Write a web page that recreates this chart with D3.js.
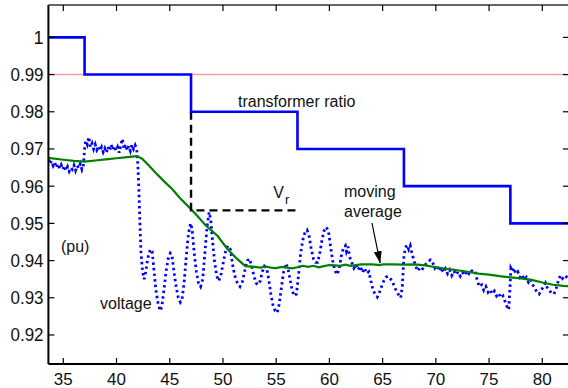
<!DOCTYPE html>
<html>
<head>
<meta charset="utf-8">
<script src="https://cdn.jsdelivr.net/npm/d3@7"></script>
<style>
  html, body { margin: 0; padding: 0; background: #fff; }
  svg { display: block; font-family: "Liberation Sans", Arial, Helvetica, sans-serif; }
</style>
</head>
<body>
<svg id="chart" width="568" height="388"></svg>
<script>
// Axis ticks
const xTicks = [35, 40, 45, 50, 55, 60, 65, 70, 75, 80];
const yTicks = [0.92, 0.93, 0.94, 0.95, 0.96, 0.97, 0.98, 0.99, 1];

// Transformer ratio: tap changes (time of change, new ratio)
const ratioTimes  = [33.6, 37, 47, 57, 67, 77];
const ratioValues = [1.00, 0.99, 0.98, 0.97, 0.96, 0.95];

// Reference level (pu)
const referenceLevel = 0.99;

// Vr marker: dashed corner from ratio step down to the voltage reference
const vrTimes = [47, 57];
const vrLevel = 0.9535;

// Measured voltage (time, pu)
const voltageTime = [
  33.6,33.75,33.9,34.05,34.2,34.35,34.5,34.65,34.8,34.95,35.1,35.25,35.4,35.55,35.7,35.85,36.0,36.15,36.3,36.45,36.6,36.75,36.9,
  37.0,37.1,37.25,37.4,37.55,37.7,37.85,38.0,38.15,38.3,38.45,38.6,38.75,38.9,39.05,39.2,39.35,39.5,39.65,39.8,39.95,40.1,40.25,40.4,40.55,40.7,40.85,41.0,41.15,41.3,41.45,41.6,41.75,41.9,
  42.0,42.1,42.2,42.3,42.45,42.6,42.75,42.9,43.05,43.2,43.35,43.5,43.7,43.9,44.1,44.25,44.45,44.65,44.85,45.05,45.2,45.4,45.6,45.8,46.0,46.15,46.35,46.55,46.75,46.95,47.1,47.3,47.5,47.7,47.9,48.1,48.3,48.5,48.7,48.85,
  49.0,49.2,49.4,49.6,49.8,50.0,50.2,50.45,50.7,50.9,51.1,51.35,51.6,51.85,52.1,52.3,52.5,52.7,52.9,53.1,53.3,53.5,53.7,53.9,54.1,54.3,54.5,54.7,54.9,55.1,55.3,55.5,55.7,55.9,56.1,56.3,56.5,56.7,56.9,
  57.1,57.3,57.5,57.7,57.9,58.1,58.3,58.5,58.7,58.9,59.1,59.3,59.5,59.7,59.9,60.1,60.3,60.5,60.7,60.9,61.1,61.3,61.5,61.6,61.75,61.9,62.1,62.3,62.5,62.7,62.9,63.1,63.3,63.5,63.7,63.9,
  64.1,64.3,64.5,64.7,64.9,65.1,65.3,65.5,65.7,65.9,66.1,66.3,66.5,66.7,66.85,67.0,67.15,67.3,67.45,67.6,67.75,67.9,68.1,68.3,68.5,68.7,68.9,69.1,69.3,69.5,69.7,69.9,
  70.1,70.3,70.5,70.7,70.9,71.1,71.3,71.5,71.7,71.9,72.1,72.3,72.5,72.7,72.9,73.1,73.3,73.5,73.7,73.9,74.1,74.3,74.5,74.7,74.9,75.1,75.3,75.5,75.7,75.9,76.1,76.3,76.5,76.7,76.85,76.95,
  77.05,77.2,77.35,77.5,77.7,77.9,78.1,78.3,78.5,78.7,78.9,79.1,79.3,79.5,79.7,79.9,80.1,80.3,80.5,80.7,80.9,81.1,81.3,81.5,81.7,81.9,82.1,82.3,82.45
];
const voltageValue = [
  .9672,.9660,.9668,.9655,.9663,.9650,.9660,.9648,.9657,.9645,.9655,.9642,.9652,.9640,.9650,.9645,.9656,.9642,.9655,.9648,.9660,.9645,.9658,
  .9700,.9722,.9712,.9732,.9705,.9715,.9700,.9712,.9698,.9708,.9695,.9705,.9692,.9702,.9690,.9706,.9695,.9712,.9698,.9708,.9695,.9705,.9690,.9710,.9727,.9700,.9712,.9696,.9708,.9695,.9712,.9700,.9710,.9698,
  .9660,.9590,.9500,.9420,.9370,.9350,.9370,.9400,.9420,.9430,.9425,.9380,.9320,.9285,.9265,.9275,.9320,.9370,.9405,.9420,.9415,.9370,.9330,.9300,.9288,.9295,.9340,.9410,.9470,.9500,.9485,.9420,.9370,.9340,.9330,.9350,.9420,.9490,.9530,.9510,
  .9460,.9400,.9360,.9345,.9360,.9390,.9420,.9440,.9430,.9390,.9360,.9340,.9330,.9345,.9380,.9400,.9405,.9385,.9360,.9340,.9335,.9345,.9370,.9385,.9380,.9350,.9310,.9280,.9265,.9260,.9285,.9330,.9370,.9392,.9380,.9350,.9320,.9305,.9310,
  .9360,.9420,.9455,.9475,.9482,.9465,.9430,.9405,.9395,.9395,.9420,.9455,.9480,.9490,.9480,.9440,.9400,.9375,.9362,.9375,.9410,.9432,.9440,.9425,.9438,.9410,.9395,.9380,.9390,.9375,.9385,.9368,.9380,.9365,.9370,.9345,
  .9320,.9310,.9302,.9315,.9330,.9345,.9355,.9358,.9352,.9345,.9330,.9318,.9308,.9300,.9330,.9410,.9435,.9442,.9430,.9440,.9420,.9405,.9385,.9372,.9380,.9375,.9385,.9392,.9398,.9402,.9395,.9380,
  .9388,.9372,.9382,.9368,.9378,.9365,.9375,.9360,.9372,.9362,.9370,.9358,.9368,.9360,.9372,.9365,.9375,.9368,.9370,.9345,.9330,.9335,.9320,.9330,.9315,.9322,.9310,.9318,.9305,.9312,.9300,.9305,.9290,.9275,.9268,.9320,
  .9380,.9372,.9380,.9365,.9370,.9355,.9362,.9348,.9355,.9342,.9350,.9335,.9325,.9315,.9310,.9320,.9330,.9340,.9325,.9318,.9312,.9310,.9325,.9345,.9360,.9352,.9360,.9355,.9350
];

// Moving average of the voltage (time, pu)
const averageTime = [33.6,35,36,37,38,39,40,41,41.9,42.4,43,43.6,44.4,45.2,46,46.9,47.6,48.3,48.8,49.5,50.4,51.2,52.1,53,53.5,54,54.5,55,55.5,56,56.5,57,57.5,58,58.5,59,59.5,60,60.5,61,61.5,62,62.5,63,64,64.8,65,66,67,68,69,70,71,72,73,74,75,76,77,78,79,80,81,82,82.45];
const averageValue = [.9676,.9671,.9668,.9666,.9669,.9672,.9675,.9678,.9681,.9674,.9657,.9638,.9615,.9593,.9567,.9541,.9520,.9497,.9484,.9466,.9432,.9408,.9385,.9383,.9381,.9384,.9381,.9380,.9383,.9381,.9379,.9382,.9386,.9383,.9386,.9382,.9385,.9388,.9387,.9386,.9389,.9386,.9388,.9390,.9390,.9388,.9390,.9390,.9389,.9390,.9387,.9382,.9378,.9374,.9370,.9365,.9362,.9358,.9355,.9352,.9348,.9341,.9335,.9332,.9331];

const svg = d3.select("#chart");
const plot = { left: 48.4, right: 568.9, top: 5, bottom: 364 };

const x = d3.scaleLinear().domain([33.6, 82.5]).range([plot.left, plot.right]);
const y = d3.scaleLinear().domain([0.9122, 1.0087]).range([plot.bottom, plot.top]);

const defs = svg.append("defs");
defs.append("clipPath").attr("id", "plotClip")
  .append("rect").attr("x", plot.left).attr("y", plot.top)
  .attr("width", plot.right - plot.left).attr("height", plot.bottom - plot.top);

defs.append("marker")
  .attr("id", "arrowHead").attr("viewBox", "0 0 12 8")
  .attr("refX", 12).attr("refY", 4)
  .attr("markerWidth", 12).attr("markerHeight", 8)
  .attr("markerUnits", "userSpaceOnUse").attr("orient", "auto")
  .append("path").attr("d", "M0,0 L12,4 L0,8 Z").attr("fill", "#000");

const g = svg.append("g").attr("clip-path", "url(#plotClip)");

// reference level
g.append("line")
  .attr("x1", plot.left).attr("x2", plot.right)
  .attr("y1", y(referenceLevel)).attr("y2", y(referenceLevel))
  .attr("stroke", "#ff9a9a").attr("stroke-width", 1.5);

// voltage (dotted)
const voltage = voltageTime.map((t, i) => [t, voltageValue[i]]);
g.append("path")
  .datum(voltage)
  .attr("d", d3.line().x(d => x(d[0])).y(d => y(d[1])))
  .attr("fill", "none").attr("stroke", "#0000ff")
  .attr("stroke-width", 2.8).attr("stroke-dasharray", "2.4,3.2");

// moving average
const average = averageTime.map((t, i) => [t, averageValue[i]]);
g.append("path")
  .datum(average)
  .attr("d", d3.line().x(d => x(d[0])).y(d => y(d[1])))
  .attr("fill", "none").attr("stroke", "#008000").attr("stroke-width", 2.2);

// Vr dashed corner
g.append("path")
  .datum([[vrTimes[0], ratioValues[2]], [vrTimes[0], vrLevel], [vrTimes[1], vrLevel]])
  .attr("d", d3.line().x(d => x(d[0])).y(d => y(d[1])))
  .attr("fill", "none").attr("stroke", "#000")
  .attr("stroke-width", 2.4).attr("stroke-dasharray", "8,5");

// transformer ratio steps
const ratio = ratioTimes.map((t, i) => [t, ratioValues[i]]);
ratio.push([x.domain()[1], ratioValues[ratioValues.length - 1]]);
g.append("path")
  .datum(ratio)
  .attr("d", d3.line().x(d => x(d[0])).y(d => y(d[1])).curve(d3.curveStepAfter))
  .attr("fill", "none").attr("stroke", "#0000ff").attr("stroke-width", 2.6);

// axes frame and ticks
const tickLen = 6;
const axes = svg.append("g");
axes.append("line").attr("x1", plot.left).attr("x2", plot.left)
  .attr("y1", plot.top).attr("y2", plot.bottom).attr("stroke", "#000").attr("stroke-width", 2);
axes.append("line").attr("x1", plot.left).attr("x2", plot.right)
  .attr("y1", plot.bottom).attr("y2", plot.bottom).attr("stroke", "#000").attr("stroke-width", 2);
axes.append("line").attr("x1", plot.left).attr("x2", plot.right)
  .attr("y1", plot.top).attr("y2", plot.top).attr("stroke", "#333").attr("stroke-width", 1.5);

xTicks.forEach(v => {
  axes.append("line").attr("x1", x(v)).attr("x2", x(v))
    .attr("y1", plot.bottom).attr("y2", plot.bottom - tickLen).attr("stroke", "#000").attr("stroke-width", 1.2);
  axes.append("line").attr("x1", x(v)).attr("x2", x(v))
    .attr("y1", plot.top).attr("y2", plot.top + tickLen).attr("stroke", "#000").attr("stroke-width", 1.2);
  axes.append("text").attr("x", x(v)).attr("y", 385)
    .attr("text-anchor", "middle").attr("font-size", 17).attr("fill", "#111").text(v);
});
yTicks.forEach(v => {
  axes.append("line").attr("x1", plot.left).attr("x2", plot.left + tickLen)
    .attr("y1", y(v)).attr("y2", y(v)).attr("stroke", "#000").attr("stroke-width", 1.2);
  axes.append("line").attr("x1", plot.right).attr("x2", plot.right - tickLen)
    .attr("y1", y(v)).attr("y2", y(v)).attr("stroke", "#000").attr("stroke-width", 1.2);
  const label = d3.format("~g")(v);
  const t = axes.append("text").attr("x", 43.5).attr("y", y(v)).attr("dy", "0.36em")
    .attr("text-anchor", "end").attr("font-size", 18).attr("fill", "#111").text(label);
  if (label.length > 1) t.attr("textLength", 33).attr("lengthAdjust", "spacingAndGlyphs");
});

// annotations
const ann = svg.append("g").attr("font-size", 16).attr("fill", "#111");
ann.append("text").attr("x", x(51.41)).attr("y", y(0.9814)).text("transformer ratio");
const vr = ann.append("text").attr("x", x(54.73)).attr("y", y(0.9567));
vr.append("tspan").text("V");
vr.append("tspan").attr("font-size", 13).attr("dx", 1).attr("dy", 6).text("r");
ann.append("text").attr("x", x(61.37)).attr("y", y(0.9571)).text("moving");
ann.append("text").attr("x", x(61.37)).attr("y", y(0.9517)).text("average");
ann.append("text").attr("x", x(34.78)).attr("y", y(0.9423)).text("(pu)");
ann.append("text").attr("x", x(38.45)).attr("y", y(0.9270)).text("voltage");

svg.append("line")
  .attr("x1", x(64.0)).attr("y1", y(0.9501))
  .attr("x2", x(64.77)).attr("y2", y(0.9393))
  .attr("stroke", "#000").attr("stroke-width", 1.2)
  .attr("marker-end", "url(#arrowHead)");
</script>
</body>
</html>
